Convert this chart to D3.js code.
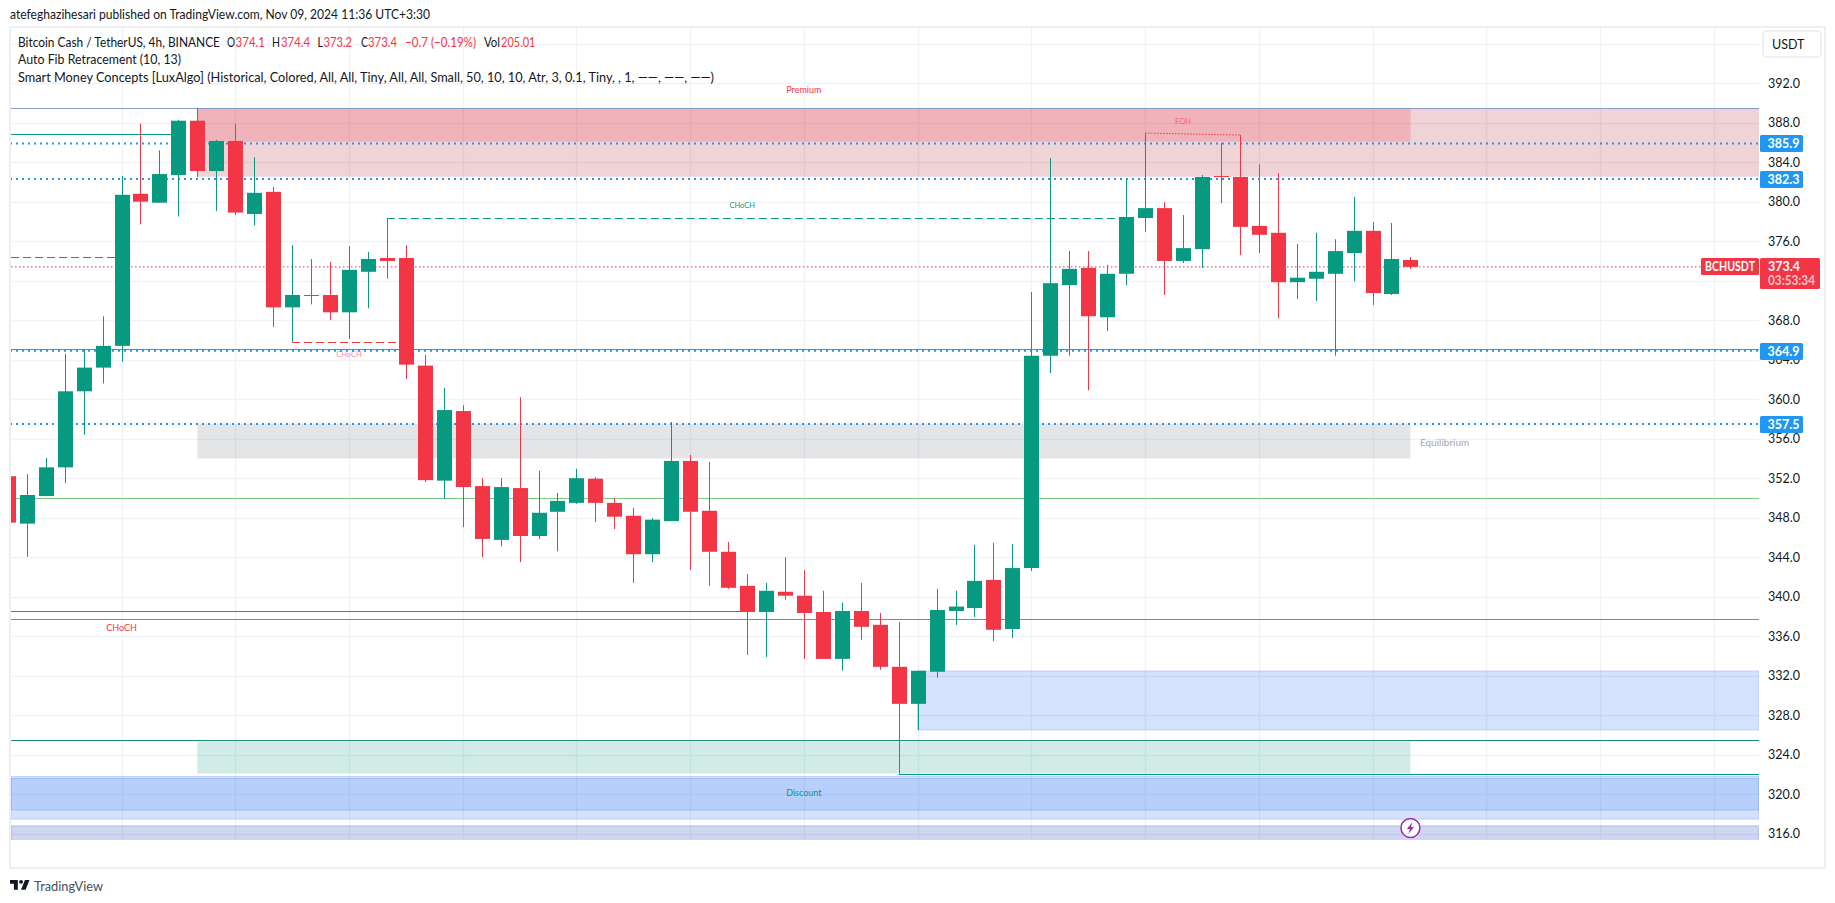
<!DOCTYPE html>
<html>
<head>
<meta charset="utf-8">
<title>BCHUSDT 4h</title>
<script src="https://cdnjs.cloudflare.com/ajax/libs/d3/7.9.0/d3.min.js"></script>
<style>
html, body { margin: 0; padding: 0; background: #fff; }
svg { display: block; }
text { font-family: Lato, "Noto Sans", sans-serif; }
</style>
</head>
<body>
<div id="chart"></div>
<script>
// candles, 4h apart, first one is Oct 28 00:00
const opens = [352.2,347.4,350.2,353.1,360.8,363.2,365.4,380.8,379.9,382.7,388.2,383.1,386.15,378.75,381.0,369.3,370.55,370.55,368.8,372.9,374.3,374.3,363.4,351.75,358.8,351.2,345.75,351.0,346.15,348.6,349.5,351.95,349.5,348.2,344.3,347.65,353.75,348.7,344.55,341.1,338.45,340.5,340.1,338.45,333.7,338.55,337.15,332.9,329.15,332.4,338.55,338.85,341.7,336.73,342.9,364.4,371.55,373.3,368.3,372.7,378.35,379.35,374.0,375.2,382.6,382.5,377.55,376.85,371.85,372.2,372.7,374.8,377.05,370.65,374.1];
const highs = [352.2,352.4,354.05,364.6,365.0,368.4,382.6,387.9,385.2,388.3,389.5,386.25,387.9,384.5,381.5,375.6,374.2,373.9,375.5,374.9,378.35,375.6,364.5,361.15,359.4,352.0,352.0,360.2,352.75,350.5,352.95,352.1,350.0,349.0,347.95,357.7,354.35,353.65,345.55,342.3,341.4,344.0,342.7,340.6,339.4,341.4,338.35,337.45,332.5,340.8,340.6,345.25,345.45,345.35,370.85,384.4,375.0,375.0,373.6,382.4,386.95,379.95,378.65,382.7,385.95,386.75,383.8,382.9,375.7,376.85,376.2,380.5,377.95,377.85,374.4];
const lows = [347.5,344.05,350.2,351.5,356.4,361.6,363.8,377.7,379.9,378.5,382.5,379.06,378.65,377.6,367.3,365.8,369.6,368.0,366.1,369.2,372.2,362.05,351.6,349.9,347.05,344.0,345.1,343.5,345.85,344.6,349.4,347.55,346.85,341.4,343.5,347.65,342.7,341.1,340.8,334.1,333.9,339.7,333.7,333.7,332.5,335.6,332.6,322.05,326.5,331.8,337.15,337.95,335.5,335.8,342.6,362.65,364.4,360.9,366.9,371.55,376.95,370.55,373.8,373.3,379.85,374.6,374.8,368.2,370.15,369.95,364.4,371.95,369.55,370.55,373.2];
const closes = [347.5,350.3,353.1,360.8,363.2,365.4,380.7,380.0,382.8,388.2,383.1,386.15,378.9,380.9,369.3,370.55,370.45,368.8,373.1,374.2,374.0,363.5,351.8,358.9,351.1,345.85,351.1,346.15,348.5,349.7,352.0,349.5,348.1,344.3,347.8,353.75,348.6,344.55,340.9,338.45,340.6,340.1,338.35,333.7,338.55,336.95,332.9,329.15,332.5,338.65,339.0,341.6,336.65,342.9,364.4,371.75,373.2,368.4,372.7,378.45,379.35,374.0,375.3,382.5,382.5,377.45,376.65,371.85,372.3,372.9,375.0,377.05,370.75,374.2,373.4];

const startDate = new Date(Date.UTC(2024, 9, 28));
const barDate = i => d3.utcHour.offset(startDate, i * 4);

const priceTicks = [316,320,324,328,332,336,340,344,348,352,356,360,364,368,372,376,380,384,388,392,396];
// 372 sits behind the last price badge and 396 is above the scale
const priceLabels = [316,320,324,328,332,336,340,344,348,352,356,360,364,368,376,380,384,388,392];
const dayTicks = [[9,28,"28"],[9,29,"29"],[9,30,"30"],[9,31,"31"],[10,1,"Nov"],[10,2,"2"],[10,3,"3"],[10,4,"4"],[10,5,"5"],[10,6,"6"],[10,7,"7"],[10,8,"8"],[10,9,"9"],[10,10,"10"],[10,11,"11"],[10,12,"12"]];

// zones: [first bar, last bar (null = right edge), top price, bottom price]
const redZones = [[10, null, 389.46, 382.53], [10, 74, 389.46, 386.08]];
const grayZones = [[10, 74, 357.5, 354.0]];
const greenZones = [[10, 74, 325.37, 322.1]];
const blueZones = [[48, null, 332.48, 326.5], [null, null, 321.8, 317.47], [null, null, 321.6, 318.4]];
const purpleZones = [[null, null, 316.8, 315]];

// solid levels: [first bar, last bar, price, colour]
const solidLevels = [
    [null, null, 389.46, "#8a9cc9"],
    [null, 9, 386.83, "#089981"],
    [null, null, 365.05, "#ef4f4f"],
    [null, null, 349.96, "#7ccb80"],
    [null, 39, 338.6, "#f23645"],
    [null, null, 337.7, "#4caf50"],
    [null, null, 325.52, "#1f8a7b"],
    [47, null, 322.0, "#089981"]
];
// dashed structure lines
const dashedLevels = [
    [null, 6, 374.37, "#089981"],
    [20, 59, 378.3, "#089981"],
    [15, 21, 365.76, "#f23645"]
];
const pivotPrices = [385.9, 382.3, 364.9, 357.5];
const lastPrice = 373.4;
const eqhBars = [60, 65];
const eqhPrices = [386.95, 386.75];

const zoneLabels = [
    [42, 391.2, "Premium", "#f23645", 9, "middle", 1],
    [42, 320.0, "Discount", "#089981", 9, "middle", 1],
    [74.7, 355.5, "Equilibrium", "#a5a8b1", 10, "start", 1],
    [38.9, 379.6, "CHoCH", "#089981", 7.5, "middle", 1],
    [18, 364.5, "CHoCH", "#f23645", 7.5, "middle", 0.55],
    [6, 336.8, "CHoCH", "#f23645", 9, "middle", 1],
    [62, 388.1, "EQH", "#f23645", 7.5, "middle", 0.6]
];

const legendTop = ["Bitcoin Cash / TetherUS, 4h, BINANCE", "O", "374.1", "H", "374.4", "L", "373.2", "C", "373.4", "\u22120.7 (\u22120.19%)", "Vol", "205.01"];
const legendTopX = [18, 227, 235.5, 272, 281, 317.5, 323.5, 361, 368, 405, 484, 501];
const legendTopW = [202, 8, 29.5, 8, 29, 5.5, 28.5, 7, 29, 71, 16, 34.5];
const legendTopUp = [true, true, false, true, false, true, false, true, false, false, true, false];
const legendSecond = "Auto Fib Retracement (10, 13)";
const legendThird = "Smart Money Concepts [LuxAlgo] (Historical, Colored, All, All, Tiny, All, All, Small, 50, 10, 10, Atr, 3, 0.1, Tiny, , 1, \u2014\u2014, \u2014\u2014, \u2014\u2014)";

const upColor = "#089981", downColor = "#f23645", gridColor = "#f1f2f5", blueBadge = "#2196f3";
const width = 1835, height = 903;
const plot = { left: 11, right: 1759, top: 28, bottom: 840 };

let svg = d3.select("#chart").append("svg").attr("width", width).attr("height", height);

let x = d3.scaleUtc()
    .domain([new Date(Date.UTC(2024, 9, 29)), new Date(Date.UTC(2024, 10, 12))])
    .range([121.5, 1713.7]);
let y = d3.scaleLinear()
    .domain([392, 316])
    .range([83.2, 833.7]);

let barX = i => i === null ? plot.left : x(barDate(i));
let endX = i => i === null ? plot.right : x(barDate(i));

svg.append("defs").append("clipPath").attr("id", "plot-clip").append("rect")
    .attr("x", plot.left).attr("y", plot.top)
    .attr("width", plot.right - plot.left).attr("height", plot.bottom - plot.top);
svg.select("defs").append("clipPath").attr("id", "time-clip").append("rect")
    .attr("x", plot.left).attr("y", plot.bottom)
    .attr("width", plot.right - plot.left).attr("height", 26);

// outer frame
svg.append("rect")
    .attr("x", 10).attr("y", 27).attr("width", 1815).attr("height", 841)
    .attr("fill", "#fff").attr("stroke", "#eeeff5").attr("stroke-width", 2);

let chart = svg.append("g").attr("clip-path", "url(#plot-clip)");

// grid
chart.append("g").selectAll("line").data(priceTicks).enter().append("line")
    .attr("x1", plot.left).attr("x2", plot.right)
    .attr("y1", d => Math.round(y(d)) + 0.5).attr("y2", d => Math.round(y(d)) + 0.5)
    .attr("stroke", gridColor).attr("stroke-width", 1.4);
chart.append("g").selectAll("line").data(dayTicks).enter().append("line")
    .attr("x1", d => Math.round(x(Date.UTC(2024, d[0], d[1]))) + 0.5)
    .attr("x2", d => Math.round(x(Date.UTC(2024, d[0], d[1]))) + 0.5)
    .attr("y1", plot.top).attr("y2", plot.bottom)
    .attr("stroke", gridColor).attr("stroke-width", 1.4);

let drawZones = (zones, fill, stroke) => {
    chart.append("g").selectAll("rect").data(zones).enter().append("rect")
        .attr("x", d => barX(d[0]))
        .attr("width", d => endX(d[1]) - barX(d[0]))
        .attr("y", d => y(d[2]))
        .attr("height", d => y(d[3]) - y(d[2]))
        .attr("fill", fill)
        .attr("stroke", stroke || "none");
};
drawZones([redZones[0]], "rgba(178,34,52,0.2)");
drawZones([redZones[1]], "rgba(242,54,69,0.2)");
drawZones(grayZones, "rgba(120,123,134,0.2)");
drawZones(greenZones, "rgba(8,153,129,0.19)");
drawZones([blueZones[0], blueZones[1]], "rgba(33,100,243,0.19)", "rgba(33,100,243,0.2)");
drawZones([blueZones[2]], "rgba(33,110,243,0.16)", "rgba(33,110,243,0.25)");
drawZones(purpleZones, "rgba(40,70,190,0.22)", "rgba(40,70,190,0.25)");

// last price line and pivots go under the candles
chart.append("line")
    .attr("x1", plot.left).attr("x2", 1701)
    .attr("y1", y(lastPrice)).attr("y2", y(lastPrice))
    .attr("stroke", "#f23645").attr("stroke-width", 1).attr("stroke-dasharray", "1.5 2.5");
chart.append("g").selectAll("line").data(solidLevels).enter().append("line")
    .attr("x1", d => barX(d[0])).attr("x2", d => endX(d[1]))
    .attr("y1", d => Math.round(y(d[2])) + 0.5).attr("y2", d => Math.round(y(d[2])) + 0.5)
    .attr("stroke", d => d[3]).attr("stroke-width", 1);
chart.append("g").selectAll("line").data(dashedLevels).enter().append("line")
    .attr("x1", d => barX(d[0])).attr("x2", d => endX(d[1]))
    .attr("y1", d => Math.round(y(d[2])) + 0.5).attr("y2", d => Math.round(y(d[2])) + 0.5)
    .attr("stroke", d => d[3]).attr("stroke-width", 1).attr("stroke-dasharray", "8 4");
chart.append("g").selectAll("line").data(pivotPrices).enter().append("line")
    .attr("x1", plot.left - 1).attr("x2", plot.right)
    .attr("y1", d => y(d)).attr("y2", d => y(d))
    .attr("stroke", blueBadge).attr("stroke-width", 2).attr("stroke-dasharray", "2 4");
chart.append("line")
    .attr("x1", barX(eqhBars[0])).attr("x2", barX(eqhBars[1]))
    .attr("y1", y(eqhPrices[0])).attr("y2", y(eqhPrices[1]))
    .attr("stroke", "#f23645").attr("stroke-width", 1).attr("stroke-dasharray", "1.5 1.5");

// candles
let candles = chart.append("g").selectAll("g").data(d3.range(opens.length)).enter().append("g");
candles.append("line")
    .attr("x1", i => Math.round(x(barDate(i))) + 0.5).attr("x2", i => Math.round(x(barDate(i))) + 0.5)
    .attr("y1", i => y(highs[i])).attr("y2", i => y(lows[i]))
    .attr("stroke", i => closes[i] >= opens[i] ? upColor : downColor).attr("stroke-width", 1);
candles.append("rect")
    .attr("x", i => Math.round(x(barDate(i))) - 7)
    .attr("width", 15)
    .attr("y", i => y(Math.max(opens[i], closes[i])))
    .attr("height", i => Math.max(1, Math.abs(y(opens[i]) - y(closes[i]))))
    .attr("fill", i => closes[i] >= opens[i] ? upColor : downColor);

// labels inside the chart
chart.append("g").selectAll("text").data(zoneLabels).enter().append("text")
    .attr("x", d => x(barDate(d[0])))
    .attr("y", d => y(d[1]))
    .attr("text-anchor", d => d[5])
    .attr("dominant-baseline", "middle")
    .attr("fill", d => d[3]).attr("font-size", d => d[4]).attr("opacity", d => d[6])
    .text(d => d[2]);

// price axis
let yAxis = d3.axisRight(y).tickValues(priceLabels).tickSize(0).tickPadding(9)
    .tickFormat(d3.format(".1f"));
let yAxisG = svg.append("g").attr("transform", `translate(${plot.right},0)`).call(yAxis);
yAxisG.select(".domain").remove();
yAxisG.selectAll("text").attr("font-size", 12.5).attr("fill", "#131722").attr("font-family", "Lato");

// time axis
let xAxis = d3.axisBottom(x)
    .tickValues(dayTicks.map(d => new Date(Date.UTC(2024, d[0], d[1]))))
    .tickFormat((d, i) => dayTicks[i][2])
    .tickSize(0).tickPadding(6);
let xAxisG = svg.append("g").attr("transform", `translate(0,${plot.bottom})`)
    .attr("clip-path", "url(#time-clip)").call(xAxis);
xAxisG.select(".domain").remove();
xAxisG.selectAll("text").attr("font-size", 12.5).attr("fill", "#131722").attr("font-family", "Lato")
    .attr("font-weight", (d, i) => dayTicks[i][2] === "Nov" ? 700 : 400);

// price badges
let badges = svg.append("g").selectAll("g").data(pivotPrices).enter().append("g")
    .attr("transform", d => `translate(${plot.right + 1},${Math.round(y(d)) - 8})`);
badges.append("rect").attr("width", 43).attr("height", 17).attr("rx", 1.5).attr("fill", blueBadge);
badges.append("text").attr("x", 7.5).attr("y", 13).attr("fill", "#fff").attr("font-size", 12.5).attr("font-weight", 700)
    .text(d => d.toFixed(1));

svg.append("rect").attr("x", 1701).attr("y", Math.round(y(lastPrice)) - 9).attr("width", 58).attr("height", 17)
    .attr("rx", 1.5).attr("fill", downColor);
svg.append("text").attr("x", 1705).attr("y", Math.round(y(lastPrice)) + 4).attr("fill", "#fff").attr("font-size", 12.5).attr("font-weight", 700)
    .attr("textLength", 50).attr("lengthAdjust", "spacingAndGlyphs")
    .text("BCHUSDT");
svg.append("rect").attr("x", plot.right + 1).attr("y", Math.round(y(lastPrice)) - 9).attr("width", 60).attr("height", 31)
    .attr("rx", 1.5).attr("fill", downColor);
svg.append("text").attr("x", 1768).attr("y", Math.round(y(lastPrice)) + 4).attr("fill", "#fff").attr("font-size", 12.5).attr("font-weight", 700)
    .text(lastPrice.toFixed(1));
svg.append("text").attr("x", 1768).attr("y", Math.round(y(lastPrice)) + 18).attr("fill", "#fbc3c8").attr("font-size", 12.5).attr("font-weight", 700)
    .attr("textLength", 47).attr("lengthAdjust", "spacingAndGlyphs")
    .text("03:53:34");

// currency button
svg.append("rect").attr("x", 1763).attr("y", 31).attr("width", 58).attr("height", 26).attr("rx", 4)
    .attr("fill", "#fff").attr("stroke", "#e9eaf0").attr("stroke-width", 1.5);
svg.append("text").attr("x", 1772).attr("y", 49).attr("font-size", 12.5).attr("fill", "#131722").text("USDT");

// lightning pin on the last bar
let pin = svg.append("g").attr("transform", `translate(${x(barDate(74))},828)`);
pin.append("circle").attr("r", 10.5).attr("fill", "#fff");
pin.append("circle").attr("r", 9.5).attr("fill", "#fff").attr("stroke", "#9c27b0").attr("stroke-width", 1.6);
pin.append("path").attr("d", "M2 -6 L-3.5 1 L-0.5 1 L-2 6 L3.5 -1 L0.5 -1 Z").attr("fill", "#9c27b0");

// header and legend
svg.append("text").attr("x", 10).attr("y", 19).attr("font-size", 12.5).attr("fill", "#131722")
    .attr("textLength", 420).attr("lengthAdjust", "spacingAndGlyphs")
    .text("atefeghazihesari published on TradingView.com, Nov 09, 2024 11:36 UTC+3:30");
svg.append("g").selectAll("text").data(legendTop).enter().append("text")
    .attr("x", (d, i) => legendTopX[i]).attr("y", 47)
    .attr("font-size", 12.5)
    .attr("textLength", (d, i) => legendTopW[i]).attr("lengthAdjust", "spacingAndGlyphs")
    .attr("fill", (d, i) => legendTopUp[i] ? "#131722" : downColor)
    .text(d => d);
svg.append("text").attr("x", 18).attr("y", 64.4).attr("font-size", 12.5).attr("fill", "#131722")
    .attr("textLength", 163).attr("lengthAdjust", "spacingAndGlyphs")
    .text(legendSecond);
svg.append("text").attr("x", 18).attr("y", 81.8).attr("font-size", 12.5).attr("fill", "#131722")
    .attr("textLength", 696).attr("lengthAdjust", "spacingAndGlyphs")
    .text(legendThird);

// footer logo
svg.append("path").attr("transform", "translate(8.7,876) scale(0.65)")
    .attr("d", "M14 6H2v6h6v9h6V6Zm12 15h-7l6-15h7l-6 15Zm-7-9a3 3 0 1 0 0-6 3 3 0 0 0 0 6Z")
    .attr("fill", "#131722");
svg.append("text").attr("x", 34).attr("y", 891).attr("font-size", 14).attr("fill", "#4a4e57")
    .attr("textLength", 69).attr("lengthAdjust", "spacingAndGlyphs")
    .text("TradingView");
</script>
</body>
</html>
